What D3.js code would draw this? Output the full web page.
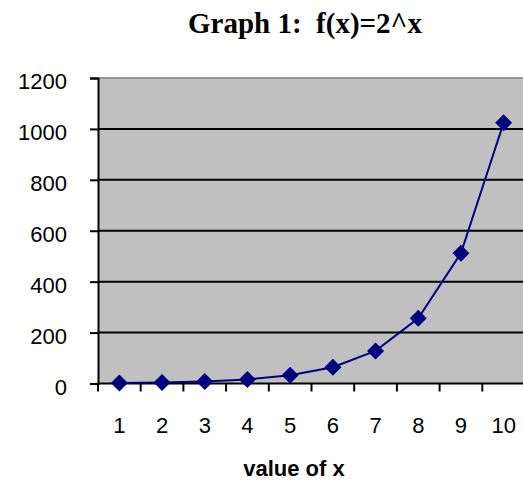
<!DOCTYPE html>
<html>
<head>
<meta charset="utf-8">
<script src="https://cdn.jsdelivr.net/npm/d3@7"></script>
<style>
  body { margin: 0; background: #fff; }
  svg { display: block; }
</style>
</head>
<body>
<svg id="chart" width="523" height="481"></svg>
<script>
const categories = ["1", "2", "3", "4", "5", "6", "7", "8", "9", "10"];
const values = [2, 4, 8, 16, 32, 64, 128, 256, 512, 1024];
const yTicks = [0, 200, 400, 600, 800, 1000, 1200];
const title = "Graph 1:  f(x)=2^x";
const xTitle = "value of x";

const svg = d3.select("#chart");
const pLeft = 98, pRight = 525, pTop = 78, pBottom = 383.5;

const x = d3.scaleBand().domain(categories).range([pLeft, pRight]);
const y = d3.scaleLinear().domain([0, 1200]).range([pBottom, pTop]);

// plot area
svg.append("rect").attr("x", pLeft).attr("y", pTop)
  .attr("width", pRight - pLeft).attr("height", pBottom - pTop)
  .attr("fill", "#c0c0c0");
svg.append("line").attr("x1", pLeft).attr("x2", pRight).attr("y1", pTop).attr("y2", pTop)
  .attr("stroke", "#808080").attr("stroke-width", 1.5);

// gridlines
svg.append("g").selectAll("line").data(yTicks.filter(d => d > 0 && d < 1200)).join("line")
  .attr("x1", pLeft).attr("x2", pRight)
  .attr("y1", d => y(d)).attr("y2", d => y(d))
  .attr("stroke", "#000").attr("stroke-width", 2);

// y axis
const yAxis = svg.append("g").attr("transform", `translate(${pLeft},0)`)
  .call(d3.axisLeft(y).tickValues(yTicks).tickSize(8).tickPadding(0).tickFormat(d3.format("d")));
yAxis.select(".domain").attr("stroke", "#000").attr("stroke-width", 2);
yAxis.selectAll(".tick line").attr("stroke", "#000").attr("stroke-width", 2);
yAxis.selectAll(".tick text")
  .attr("x", 67 - pLeft).attr("dy", "10.5")
  .attr("font-family", "Liberation Sans, Arial, sans-serif").attr("font-size", 22).attr("fill", "#000");

// x axis
const xAxis = svg.append("g").attr("transform", `translate(0,${pBottom})`)
  .call(d3.axisBottom(x).tickSize(0).tickPadding(0));
xAxis.select(".domain").remove();
xAxis.selectAll(".tick text")
  .attr("y", 433 - pBottom).attr("dy", 0)
  .attr("font-family", "Liberation Sans, Arial, sans-serif").attr("font-size", 22).attr("fill", "#000");
svg.append("line").attr("x1", pLeft - 1).attr("x2", pRight).attr("y1", pBottom).attr("y2", pBottom)
  .attr("stroke", "#000").attr("stroke-width", 2);
const bounds = categories.map(c => x(c)).concat([pRight]);
svg.append("g").selectAll("line").data(bounds).join("line")
  .attr("x1", d => d).attr("x2", d => d)
  .attr("y1", pBottom).attr("y2", pBottom + 8)
  .attr("stroke", "#000").attr("stroke-width", 2);

// series
const pts = categories.map((c, i) => [x(c) + x.bandwidth() / 2, y(values[i])]);
svg.append("path").datum(pts)
  .attr("d", d3.line())
  .attr("fill", "none").attr("stroke", "#000080").attr("stroke-width", 2);
svg.append("g").selectAll("path").data(pts).join("path")
  .attr("transform", d => `translate(${d[0]},${d[1]})`)
  .attr("d", "M0,-8.5L8.5,0L0,8.5L-8.5,0Z")
  .attr("fill", "#000080");

// titles
svg.append("text").attr("x", 305).attr("y", 33)
  .attr("text-anchor", "middle").style("white-space", "pre")
  .attr("font-family", "Liberation Serif, Times New Roman, serif")
  .attr("font-weight", "bold").attr("font-size", 29).attr("fill", "#000")
  .text(title);
svg.append("text").attr("x", 294).attr("y", 476)
  .attr("text-anchor", "middle")
  .attr("font-family", "Liberation Sans, Arial, sans-serif")
  .attr("font-weight", "bold").attr("font-size", 22).attr("fill", "#000")
  .text(xTitle);
</script>
</body>
</html>
